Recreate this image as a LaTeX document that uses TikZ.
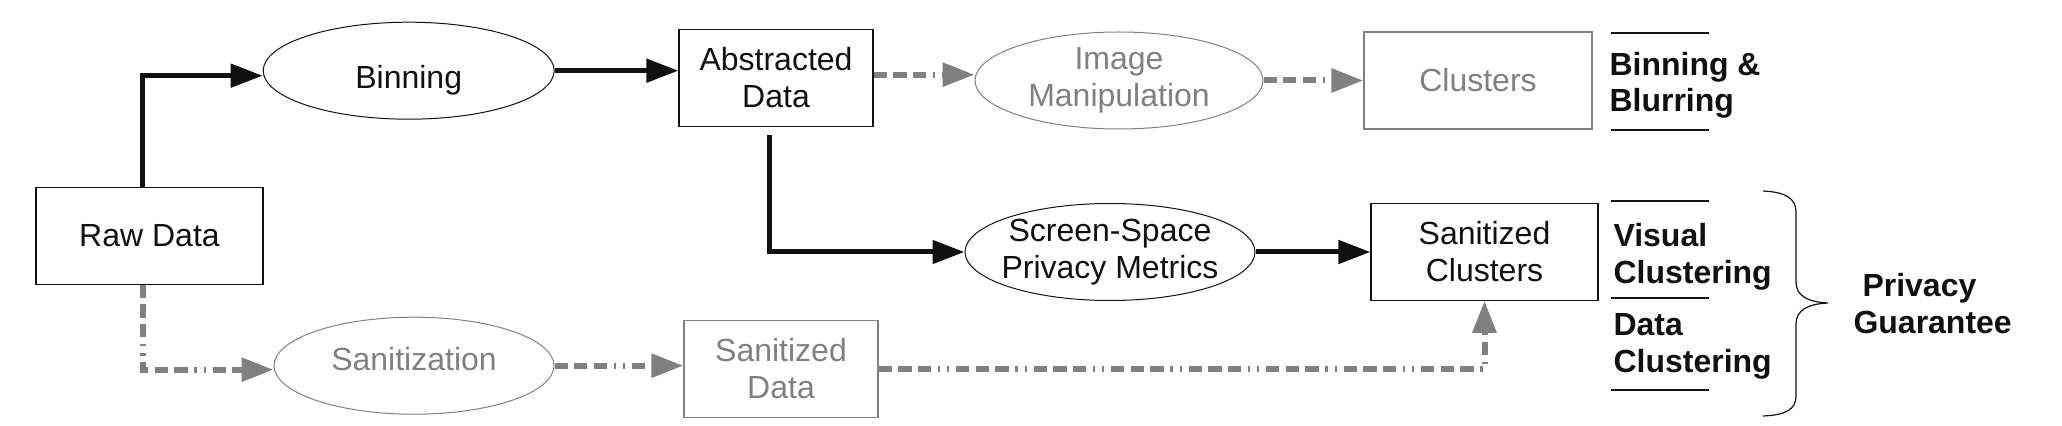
\documentclass[tikz,border=0pt]{standalone}
\usepackage{fontspec}
\setmainfont{Liberation Sans}
\usetikzlibrary{shapes.geometric}
\usetikzlibrary{arrows.meta}
\usepackage{xcolor}
\definecolor{inkblack}{RGB}{17,17,17}
\definecolor{fadegray}{RGB}{128,128,128}
\newlength{\pxu}
\setlength{\pxu}{0.4pt}

\begin{document}
\begin{tikzpicture}[x=0.4pt,y=0.4pt,yscale=-1,xscale=1,
  every node/.style={font=\fontsize{12.8pt}{14.8pt}\selectfont, align=center},
  databox/.style={draw=inkblack, text=inkblack, line width=1.2\pxu, minimum width=#1, minimum height=97\pxu, inner sep=0pt},
  fadebox/.style={databox=#1, draw=fadegray, text=fadegray},
  procbubble/.style={ellipse, draw=inkblack, text=inkblack, line width=1\pxu, minimum width=#1, minimum height=97\pxu, inner xsep=-10\pxu, inner ysep=-4\pxu},
  fadebubble/.style={procbubble=#1, draw=fadegray, text=fadegray},
  guarantee/.style={font=\fontsize{12.8pt}{14.7pt}\selectfont\bfseries, align=left, inner sep=0pt, text=inkblack, anchor=base west},
  mainflow/.style={draw=inkblack, line width=2pt, -{Triangle[length=12.8pt,width=9.2pt]}},
  fadeflow/.style={draw=fadegray, line width=2.4pt, dash pattern=on 5.32pt off 2.52pt on 5.32pt off 2.52pt on 5.32pt off 2.68pt on 0.92pt off 2.8pt on 0.92pt off 2.68pt, -{Triangle[length=12.8pt,width=9.2pt]}}]
\useasboundingbox (0,0) rectangle (2062,426);

% Boxes
\node (raw) [databox=227\pxu] at (149.5,235.7) {Raw Data};
\node (abs) [databox=194\pxu] at (776,77.7) {Abstracted\\Data};
\node (clu) [fadebox=228\pxu] at (1478,80.5) {Clusters};
\node (sclu) [databox=227\pxu] at (1484.5,251.7) {Sanitized\\Clusters};
\node (sdata) [fadebox=194\pxu] at (781,369) {Sanitized\\Data};

% Ellipses
\node (binning) [procbubble=291\pxu, text height=17.3pt, text depth=2.7pt] at (408.7,70.7) {Binning};
\node (im) [fadebubble=288\pxu] at (1119,80.5) {Image\\Manipulation};
\node (ssm) [procbubble=290\pxu] at (1110,252) {Screen-Space\\Privacy Metrics};
\node (san) [fadebubble=280\pxu, text height=9.2pt, text depth=5.4pt] at (414,365.7) {Sanitization};

% Connectors
\coordinate (rawup) at ([shift={(-7,0)}]raw.north);
\coordinate (rawdown) at ([shift={(-7,0)}]raw.south);
\coordinate (absout) at ([shift={(0,-3)}]abs.east);
\coordinate (absdown) at ([shift={(-7,8)}]abs.south);
\draw [mainflow] (rawup) |- ([shift={(0,5)}]binning.west);
\draw [mainflow] (binning.east) -- (binning.east -| abs.west);
\draw [fadeflow] (absout) -- (absout -| im.west);
\draw [fadeflow] (im.east) -- (clu.west);
\draw [mainflow] (absdown) |- (ssm.west);
\draw [mainflow] (ssm.east) -- (ssm.east -| sclu.west);
\draw [fadeflow] (rawdown) |- ([shift={(0,4)}]san.west);
\draw [fadeflow] (san.east) -- (san.east -| sdata.west);
\draw [fadeflow] (sdata.east) -| (sclu.south);

% Text Node
\node (blur) [guarantee] at (1609,112) {Binning \&\\Blurring};
% Text Node
\node (visual) [guarantee] at (1613,283) {Visual\\Clustering};
% Text Node
\node (dataclu) [guarantee] at (1613,372) {Data\\Clustering};
% Text Node
\node (privacy) [guarantee] at (1853,333) {\hspace*{9\pxu}Privacy\\Guarantee};

%Straight Lines
\draw [inkblack, line width=1.2\pxu] (1611,33) -- (1709,33);
\draw [inkblack, line width=1.2\pxu] (1611,130) -- (1709,130);
\draw [inkblack, line width=1.2\pxu] (1611,201) -- (1709,201);
\draw [inkblack, line width=1.2\pxu] (1611,298) -- (1709,298);
\draw [inkblack, line width=1.2\pxu] (1611,390) -- (1709,390);

%Shape: Brace
\draw [inkblack, line width=1.2\pxu] (1763,191) .. controls (1785,192) and (1796,198) .. (1796,212) -- (1796,282) .. controls (1796,296) and (1808,302) .. (1828,303) .. controls (1808,304) and (1796,310) .. (1796,324) -- (1796,396) .. controls (1796,410) and (1785,415) .. (1763,416);

\end{tikzpicture}
\end{document}
